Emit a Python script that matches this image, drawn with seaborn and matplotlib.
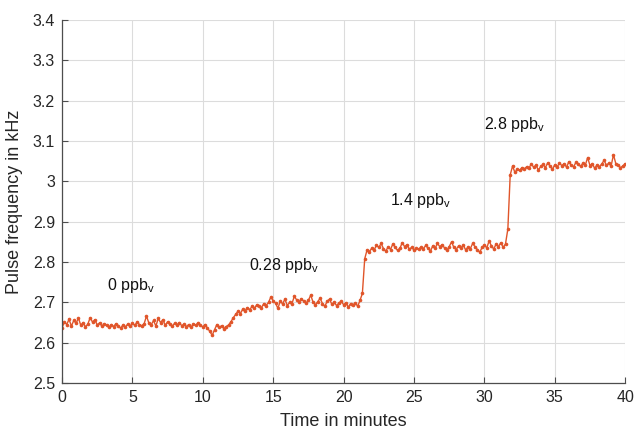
import numpy as np
import pandas as pd
import matplotlib
matplotlib.use("Agg")
import matplotlib.pyplot as plt
import seaborn as sns

# Pulse frequency (kHz), one sample every 10 s, grouped by concentration step
freq_0ppb = [
    2.636, 2.652, 2.645, 2.658, 2.641, 2.655,
    2.648, 2.661, 2.643, 2.650, 2.639, 2.646,
    2.662, 2.651, 2.657, 2.644, 2.649, 2.641,
    2.647, 2.643, 2.638, 2.645, 2.640, 2.647,
    2.642, 2.636, 2.644, 2.639, 2.646, 2.641,
    2.648, 2.643, 2.651, 2.645, 2.642, 2.647,
    2.666, 2.649, 2.644, 2.655, 2.641, 2.660,
    2.650, 2.657, 2.643, 2.652, 2.646, 2.641,
    2.648, 2.644, 2.650, 2.642, 2.646, 2.640,
    2.645, 2.638, 2.647, 2.643, 2.650, 2.644,
    2.639, 2.645,
]
freq_028ppb = [
    2.636, 2.628, 2.618, 2.632, 2.645, 2.638,
    2.642, 2.635, 2.640, 2.644, 2.652, 2.662,
    2.670, 2.678, 2.672, 2.683, 2.679, 2.687,
    2.682, 2.690, 2.685, 2.694, 2.690, 2.687,
    2.697, 2.692, 2.700, 2.713, 2.704, 2.698,
    2.685, 2.703, 2.696, 2.708, 2.692, 2.700,
    2.697, 2.715, 2.706, 2.701, 2.709, 2.703,
    2.698, 2.705, 2.718, 2.700, 2.694, 2.702,
    2.710, 2.697, 2.690, 2.703, 2.708, 2.695,
    2.700, 2.692, 2.698, 2.703, 2.694, 2.699,
    2.688, 2.697, 2.693, 2.699, 2.690, 2.705,
    2.722,
]
freq_14ppb = [
    2.808, 2.830, 2.826, 2.834, 2.829, 2.842,
    2.836, 2.846, 2.833, 2.827, 2.838, 2.831,
    2.845, 2.836, 2.829, 2.834, 2.848, 2.838,
    2.843, 2.832, 2.836, 2.830, 2.834, 2.832,
    2.837, 2.833, 2.841, 2.834, 2.827, 2.840,
    2.834, 2.846, 2.838, 2.843, 2.835, 2.829,
    2.838, 2.850, 2.836, 2.831, 2.840, 2.835,
    2.842, 2.830, 2.837, 2.833, 2.846, 2.838,
    2.831, 2.824, 2.836, 2.842, 2.835, 2.852,
    2.840, 2.832, 2.845, 2.838, 2.848, 2.836,
    2.845, 2.882,
]
freq_28ppb = [
    3.016, 3.038, 3.022, 3.030, 3.027, 3.034,
    3.031, 3.036, 3.033, 3.043, 3.035, 3.040,
    3.028, 3.037, 3.042, 3.034, 3.046, 3.038,
    3.030, 3.041, 3.036, 3.045, 3.039, 3.044,
    3.035, 3.049, 3.040, 3.036, 3.047, 3.042,
    3.037, 3.045, 3.040, 3.059, 3.039, 3.044,
    3.032, 3.041, 3.036, 3.043, 3.052, 3.040,
    3.045, 3.038, 3.066, 3.044, 3.040, 3.034,
    3.038, 3.044,
]
sample_interval_min = 10 / 60

step_labels = ["0 ppb$_\\mathregular{v}$", "0.28 ppb$_\\mathregular{v}$",
               "1.4 ppb$_\\mathregular{v}$", "2.8 ppb$_\\mathregular{v}$"]
label_x = [3.2, 13.3, 23.3, 30.0]
label_y = [2.742, 2.792, 2.952, 3.140]

x_ticks = [0, 5, 10, 15, 20, 25, 30, 35, 40]
y_ticks = [2.5, 2.6, 2.7, 2.8, 2.9, 3.0, 3.1, 3.2, 3.3, 3.4]
y_ticklabels = ["2.5", "2.6", "2.7", "2.8", "2.9", "3", "3.1", "3.2", "3.3", "3.4"]

freq = freq_0ppb + freq_028ppb + freq_14ppb + freq_28ppb
df = pd.DataFrame({
    "time": np.arange(len(freq)) * sample_interval_min,
    "freq": freq,
})

sns.set_theme(style="whitegrid")
plt.rcParams["font.family"] = ["Liberation Sans", "DejaVu Sans"]
plt.rcParams["mathtext.fontset"] = "custom"
plt.rcParams["mathtext.rm"] = "Liberation Sans"

fig = plt.figure(figsize=(6.36, 4.32), dpi=100)
ax = fig.add_axes([0.0975, 0.1134, 0.8855, 0.8403])

line_color = "#E0552A"
sns.lineplot(data=df, x="time", y="freq", ax=ax, color=line_color,
             linewidth=1.0, marker="o", markersize=2.6,
             markeredgewidth=0, markerfacecolor=line_color)

for txt, tx, ty in zip(step_labels, label_x, label_y):
    ax.text(tx, ty, txt, fontsize=11.5, color="#111111", va="center", ha="left")

ax.set_xlim(0, 40)
ax.set_ylim(2.5, 3.4)
ax.set_xticks(x_ticks)
ax.set_yticks(y_ticks)
ax.set_yticklabels(y_ticklabels)
ax.set_xlabel("Time in minutes", fontsize=13, color="#262626", labelpad=6)
ax.set_ylabel("Pulse frequency in kHz", fontsize=13, color="#262626", labelpad=7)

ax.grid(True, color="#DCDCDC", linewidth=0.8)
ax.set_facecolor("white")
for side in ["top", "right"]:
    ax.spines[side].set_visible(False)
for side in ["left", "bottom"]:
    ax.spines[side].set_visible(True)
    ax.spines[side].set_color("#4D4D4D")
    ax.spines[side].set_linewidth(0.9)
ax.tick_params(axis="both", direction="in", length=4, width=0.8,
               color="#4D4D4D", labelsize=11.5, labelcolor="#262626",
               left=True, bottom=True, pad=5)

fig.savefig("out.png", dpi=100)
